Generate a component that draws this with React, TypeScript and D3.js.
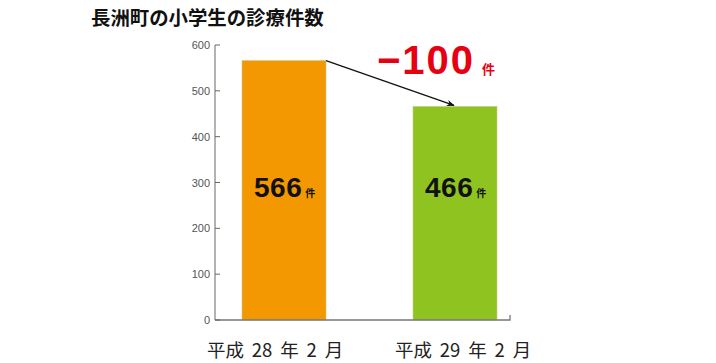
import React from "react";
import * as d3 from "d3";

const categories = ["平成 28 年 2 月", "平成 29 年 2 月"];
const values = [566, 466];
const barColors = ["#F39800", "#8FC31F"];
const yTicks = [0, 100, 200, 300, 400, 500, 600];
const titleText = "長洲町の小学生の診療件数";
const diffText = "−100";
const unit = "件";

export default function App() {
  const W = 716, H = 363;
  const y = d3.scaleLinear().domain([0, 600]).range([320, 45]);
  const xs = d3.scaleOrdinal<string, number>().domain(categories).range([242, 413]);
  const bw = 84;
  const axisX = 215;
  const font = "'Noto Sans CJK JP', 'Noto Sans', sans-serif";
  const fontNum = "'Liberation Sans', Arial, sans-serif";
  const x0 = xs(categories[0]) + bw;
  const y0 = y(values[0]);
  const x1 = xs(categories[1]) + 41;
  const y1 = y(values[1]);
  return (
    <svg width={W} height={H} style={{ position: "absolute", left: 0, top: 0, background: "#fff" }}>
      <defs>
        <marker id="ah" viewBox="0 0 10 10" refX="9" refY="5" markerWidth="8" markerHeight="8" orient="auto" markerUnits="userSpaceOnUse">
          <path d="M0,1 L10,5 L0,9 L3,5 Z" fill="#111" />
        </marker>
      </defs>
      <text x={91} y={25} fontFamily={font} fontWeight="bold" fontSize={19.4} fill="#111">{titleText}</text>
      {categories.map((c, i) => (
        <g key={c}>
          <rect x={xs(c)} y={y(values[i])} width={bw} height={y(0) - y(values[i])} fill={barColors[i]} stroke="#c9c98a" strokeWidth={0.6} />
          <text x={xs(c) + 12} y={197} fontFamily={fontNum} fontWeight="bold" fontSize={28} letterSpacing={0.5} fill="#111">
            {values[i]}
            <tspan fontSize={10} fontFamily={font} dx={3}>{unit}</tspan>
          </text>
          <text x={xs(c) - 35 + i * 17} y={357} fontFamily={font} fontSize={18.5} fill="#222" style={{ whiteSpace: "pre" }}>{c.split(" ").join("\u2009 ")}</text>
        </g>
      ))}
      <line x1={axisX} x2={axisX} y1={y(600)} y2={y(0)} stroke="#666" strokeWidth={1} />
      <path d={`M${axisX},${y(0)}H510V${y(0) - 5}`} stroke="#777" strokeWidth={1.3} fill="none" />
      {yTicks.map(t => (
        <g key={t}>
          <line x1={axisX} x2={axisX + 5} y1={y(t)} y2={y(t)} stroke="#666" strokeWidth={1} />
          <text x={axisX - 5} y={y(t) + 4} textAnchor="end" fontFamily={fontNum} fontSize={11} fill="#555">{t}</text>
        </g>
      ))}
      <line x1={x0} y1={y0} x2={x1} y2={y1 - 1} stroke="#111" strokeWidth={1.3} markerEnd="url(#ah)" />
      <text x={377} y={74} fontFamily={fontNum} fontWeight="bold" fontSize={40} letterSpacing={2} fill="#E60012">
        {diffText}
        <tspan fontSize={13} fontFamily={font} dx={7}>{unit}</tspan>
      </text>
    </svg>
  );
}
